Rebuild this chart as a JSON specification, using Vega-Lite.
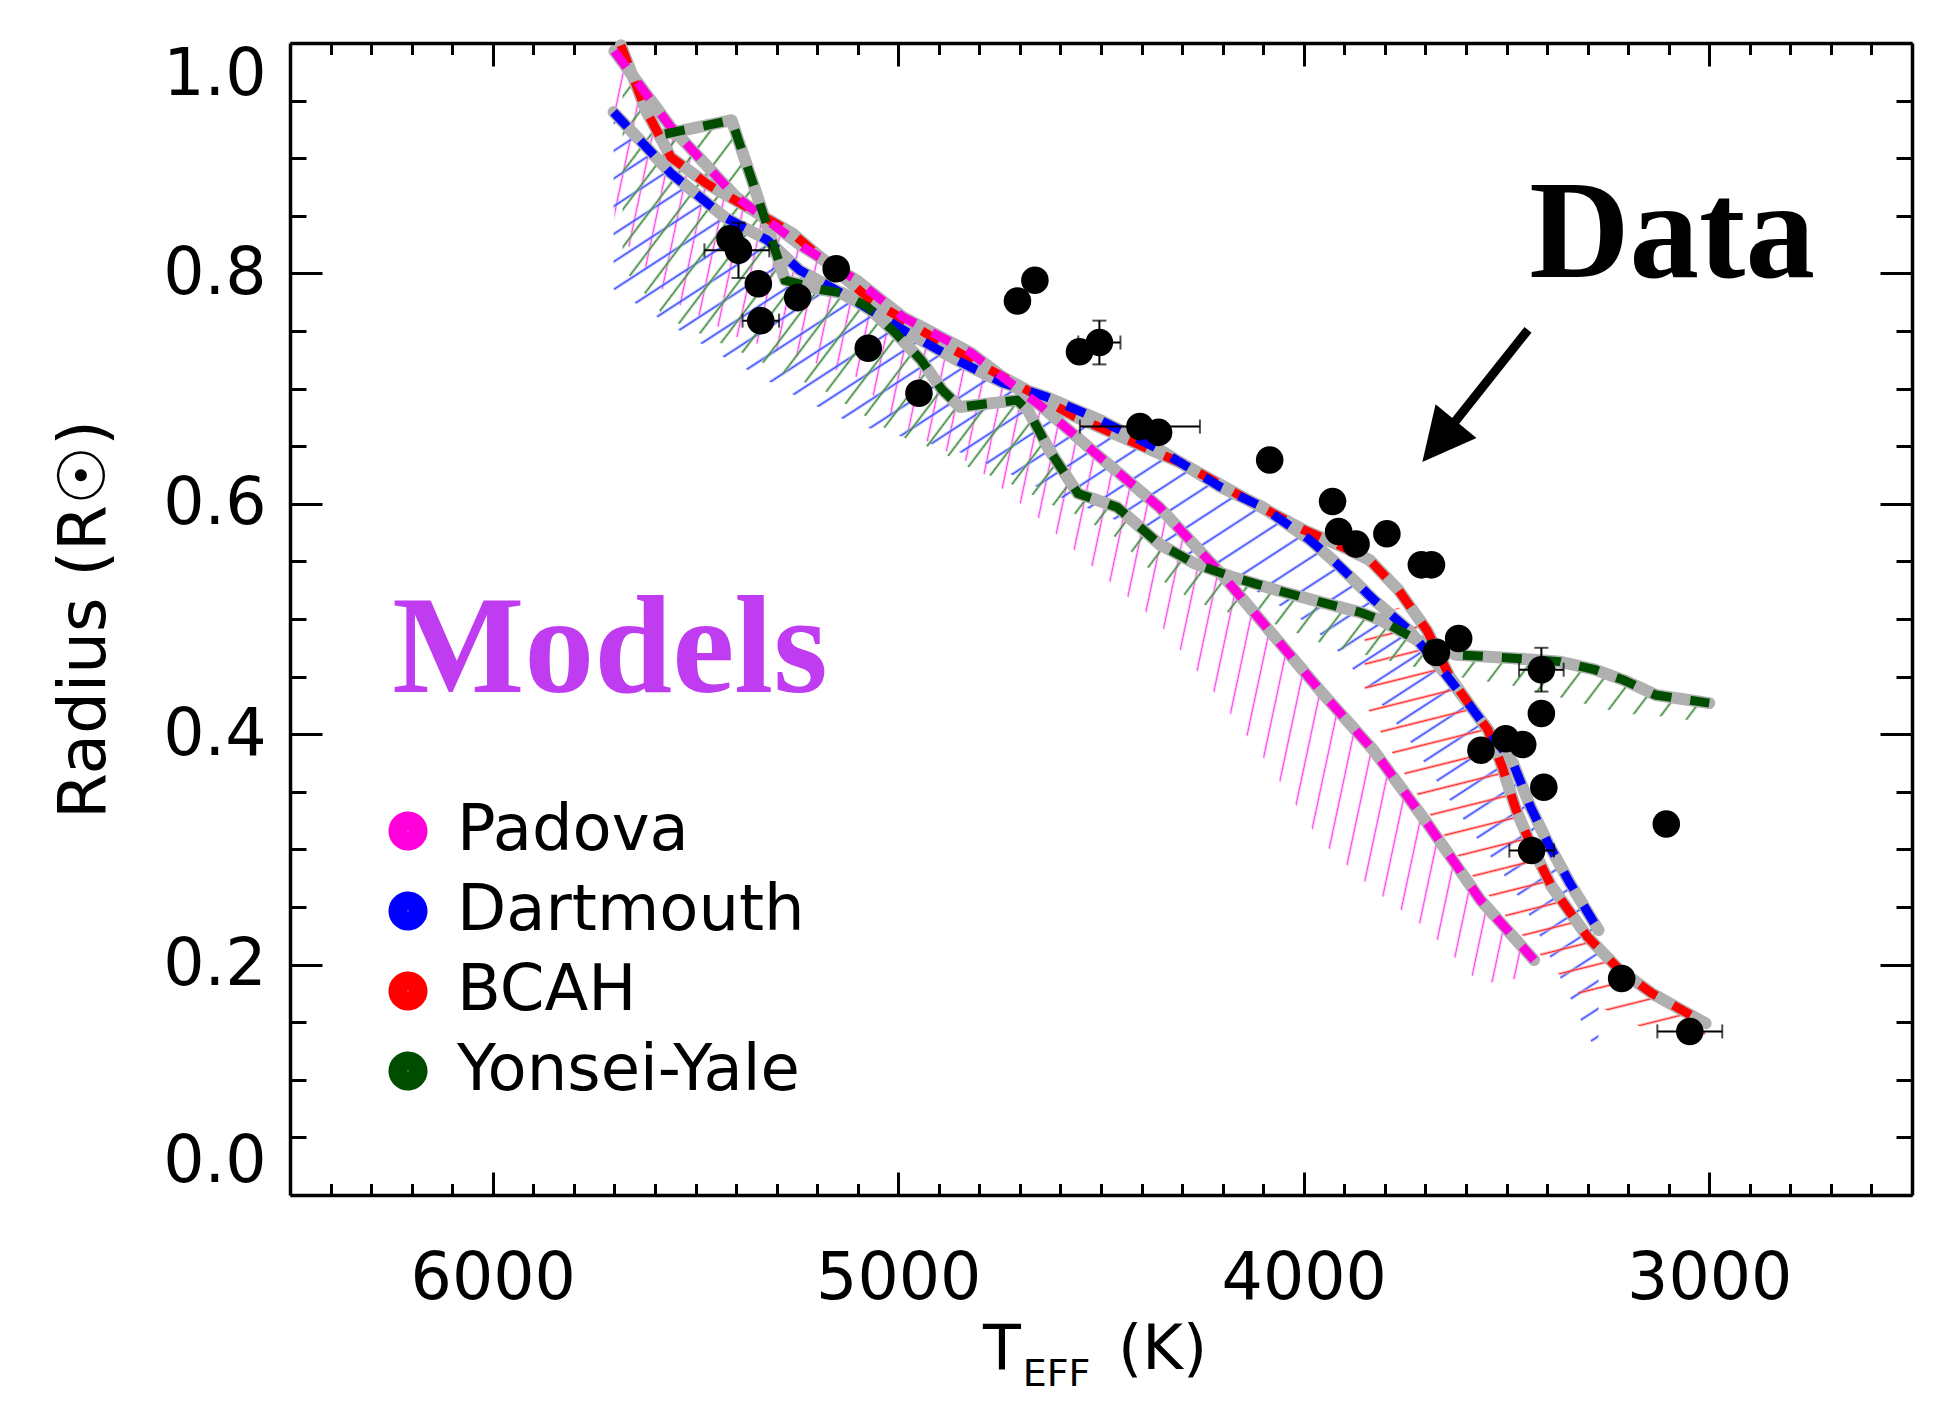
{
"$schema": "https://vega.github.io/schema/vega-lite/v6.json",
"width": 1622, "height": 1152,
"autosize": {"type": "none"},
"padding": {"left": 290, "top": 43, "right": 26, "bottom": 220},
"background": "white",
"config": {"view": {"stroke": null}, "axis": {"grid": false, "domainColor": "black", "tickColor": "black", "labelColor": "black", "titleColor": "black", "labelFont": "DejaVu Sans", "titleFont": "DejaVu Sans", "titleFontWeight": "normal"}},
"datasets": {
"curves": [
{"model":"BCAH","T":5684,"R":0.998},{"model":"BCAH","T":5623,"R":0.942},{"model":"BCAH","T":5561,"R":0.901},{"model":"BCAH","T":5473,"R":0.878},{"model":"BCAH","T":5262,"R":0.835},{"model":"BCAH","T":5068,"R":0.777},{"model":"BCAH","T":4865,"R":0.734},{"model":"BCAH","T":4566,"R":0.676},{"model":"BCAH","T":4300,"R":0.635},{"model":"BCAH","T":4136,"R":0.603},{"model":"BCAH","T":4004,"R":0.578},{"model":"BCAH","T":3900,"R":0.562},{"model":"BCAH","T":3837,"R":0.551},{"model":"BCAH","T":3766,"R":0.525},{"model":"BCAH","T":3696,"R":0.490},{"model":"BCAH","T":3640,"R":0.450},{"model":"BCAH","T":3582,"R":0.421},{"model":"BCAH","T":3546,"R":0.404},{"model":"BCAH","T":3511,"R":0.372},{"model":"BCAH","T":3476,"R":0.334},{"model":"BCAH","T":3441,"R":0.305},{"model":"BCAH","T":3389,"R":0.268},{"model":"BCAH","T":3300,"R":0.224},{"model":"BCAH","T":3220,"R":0.195},{"model":"BCAH","T":3141,"R":0.175},{"model":"BCAH","T":3009,"R":0.149},
{"model":"Dartmouth","T":5702,"R":0.940},{"model":"Dartmouth","T":5561,"R":0.887},{"model":"Dartmouth","T":5429,"R":0.849},{"model":"Dartmouth","T":5323,"R":0.829},{"model":"Dartmouth","T":5244,"R":0.803},{"model":"Dartmouth","T":5110,"R":0.777},{"model":"Dartmouth","T":4974,"R":0.748},{"model":"Dartmouth","T":4857,"R":0.725},{"model":"Dartmouth","T":4742,"R":0.705},{"model":"Dartmouth","T":4636,"R":0.693},{"model":"Dartmouth","T":4504,"R":0.673},{"model":"Dartmouth","T":4356,"R":0.647},{"model":"Dartmouth","T":4207,"R":0.615},{"model":"Dartmouth","T":4101,"R":0.597},{"model":"Dartmouth","T":3986,"R":0.569},{"model":"Dartmouth","T":3918,"R":0.548},{"model":"Dartmouth","T":3828,"R":0.517},{"model":"Dartmouth","T":3740,"R":0.490},{"model":"Dartmouth","T":3652,"R":0.453},{"model":"Dartmouth","T":3582,"R":0.421},{"model":"Dartmouth","T":3546,"R":0.404},{"model":"Dartmouth","T":3484,"R":0.375},{"model":"Dartmouth","T":3441,"R":0.337},{"model":"Dartmouth","T":3397,"R":0.305},{"model":"Dartmouth","T":3344,"R":0.271},{"model":"Dartmouth","T":3273,"R":0.230},
{"model":"Padova","T":5700,"R":0.993},{"model":"Padova","T":5561,"R":0.927},{"model":"Padova","T":5402,"R":0.867},{"model":"Padova","T":5235,"R":0.823},{"model":"Padova","T":5103,"R":0.794},{"model":"Padova","T":4988,"R":0.762},{"model":"Padova","T":4821,"R":0.731},{"model":"Padova","T":4645,"R":0.684},{"model":"Padova","T":4504,"R":0.641},{"model":"Padova","T":4356,"R":0.597},{"model":"Padova","T":4198,"R":0.537},{"model":"Padova","T":4092,"R":0.493},{"model":"Padova","T":3960,"R":0.438},{"model":"Padova","T":3828,"R":0.386},{"model":"Padova","T":3696,"R":0.323},{"model":"Padova","T":3564,"R":0.256},{"model":"Padova","T":3432,"R":0.204},
{"model":"Yonsei-Yale","T":5575,"R":0.921},{"model":"Yonsei-Yale","T":5411,"R":0.933},{"model":"Yonsei-Yale","T":5358,"R":0.878},{"model":"Yonsei-Yale","T":5323,"R":0.841},{"model":"Yonsei-Yale","T":5279,"R":0.794},{"model":"Yonsei-Yale","T":5191,"R":0.786},{"model":"Yonsei-Yale","T":5138,"R":0.783},{"model":"Yonsei-Yale","T":5076,"R":0.771},{"model":"Yonsei-Yale","T":5006,"R":0.748},{"model":"Yonsei-Yale","T":4944,"R":0.725},{"model":"Yonsei-Yale","T":4892,"R":0.699},{"model":"Yonsei-Yale","T":4848,"R":0.684},{"model":"Yonsei-Yale","T":4707,"R":0.690},{"model":"Yonsei-Yale","T":4680,"R":0.681},{"model":"Yonsei-Yale","T":4628,"R":0.647},{"model":"Yonsei-Yale","T":4557,"R":0.609},{"model":"Yonsei-Yale","T":4460,"R":0.597},{"model":"Yonsei-Yale","T":4356,"R":0.565},{"model":"Yonsei-Yale","T":4268,"R":0.548},{"model":"Yonsei-Yale","T":4180,"R":0.537},{"model":"Yonsei-Yale","T":4066,"R":0.525},{"model":"Yonsei-Yale","T":3951,"R":0.514},{"model":"Yonsei-Yale","T":3863,"R":0.506},{"model":"Yonsei-Yale","T":3810,"R":0.499},{"model":"Yonsei-Yale","T":3722,"R":0.482},{"model":"Yonsei-Yale","T":3625,"R":0.469},{"model":"Yonsei-Yale","T":3484,"R":0.466},{"model":"Yonsei-Yale","T":3369,"R":0.463},{"model":"Yonsei-Yale","T":3282,"R":0.456},{"model":"Yonsei-Yale","T":3211,"R":0.447},{"model":"Yonsei-Yale","T":3132,"R":0.434},{"model":"Yonsei-Yale","T":3000,"R":0.427}
],
"bands": [
{"model":"Padova","T":5700,"hi":0.993,"lo":0.839},{"model":"Padova","T":5561,"hi":0.927,"lo":0.777},{"model":"Padova","T":5402,"hi":0.867,"lo":0.745},{"model":"Padova","T":5235,"hi":0.823,"lo":0.726},{"model":"Padova","T":5103,"hi":0.794,"lo":0.71},{"model":"Padova","T":4988,"hi":0.762,"lo":0.665},{"model":"Padova","T":4821,"hi":0.731,"lo":0.635},{"model":"Padova","T":4645,"hi":0.684,"lo":0.585},{"model":"Padova","T":4504,"hi":0.641,"lo":0.54},{"model":"Padova","T":4356,"hi":0.597,"lo":0.496},{"model":"Padova","T":4198,"hi":0.537,"lo":0.426},{"model":"Padova","T":4092,"hi":0.493,"lo":0.376},{"model":"Padova","T":3960,"hi":0.438,"lo":0.308},{"model":"Padova","T":3828,"hi":0.386,"lo":0.265},{"model":"Padova","T":3696,"hi":0.323,"lo":0.231},{"model":"Padova","T":3564,"hi":0.256,"lo":0.183},{"model":"Padova","T":3432,"hi":0.204,"lo":0.19},
{"model":"Dartmouth","T":5702,"hi":0.940,"lo":0.786},{"model":"Dartmouth","T":5561,"hi":0.887,"lo":0.755},{"model":"Dartmouth","T":5429,"hi":0.849,"lo":0.727},{"model":"Dartmouth","T":5323,"hi":0.829,"lo":0.707},{"model":"Dartmouth","T":5244,"hi":0.803,"lo":0.692},{"model":"Dartmouth","T":5110,"hi":0.777,"lo":0.669},{"model":"Dartmouth","T":4974,"hi":0.748,"lo":0.657},{"model":"Dartmouth","T":4857,"hi":0.725,"lo":0.646},{"model":"Dartmouth","T":4742,"hi":0.705,"lo":0.629},{"model":"Dartmouth","T":4636,"hi":0.693,"lo":0.611},{"model":"Dartmouth","T":4504,"hi":0.673,"lo":0.592},{"model":"Dartmouth","T":4356,"hi":0.647,"lo":0.569},{"model":"Dartmouth","T":4207,"hi":0.615,"lo":0.541},{"model":"Dartmouth","T":4101,"hi":0.597,"lo":0.521},{"model":"Dartmouth","T":3986,"hi":0.569,"lo":0.495},{"model":"Dartmouth","T":3918,"hi":0.548,"lo":0.473},{"model":"Dartmouth","T":3828,"hi":0.517,"lo":0.435},{"model":"Dartmouth","T":3740,"hi":0.490,"lo":0.395},{"model":"Dartmouth","T":3652,"hi":0.453,"lo":0.349},{"model":"Dartmouth","T":3582,"hi":0.421,"lo":0.314},{"model":"Dartmouth","T":3546,"hi":0.404,"lo":0.297},{"model":"Dartmouth","T":3484,"hi":0.375,"lo":0.267},{"model":"Dartmouth","T":3441,"hi":0.337,"lo":0.241},{"model":"Dartmouth","T":3397,"hi":0.305,"lo":0.21},{"model":"Dartmouth","T":3344,"hi":0.271,"lo":0.172},{"model":"Dartmouth","T":3273,"hi":0.230,"lo":0.12},
{"model":"BCAH","T":3850,"hi":0.497,"lo":0.427},{"model":"BCAH","T":3766,"hi":0.51,"lo":0.374},{"model":"BCAH","T":3696,"hi":0.49,"lo":0.334},{"model":"BCAH","T":3640,"hi":0.45,"lo":0.305},{"model":"BCAH","T":3582,"hi":0.421,"lo":0.276},{"model":"BCAH","T":3546,"hi":0.404,"lo":0.261},{"model":"BCAH","T":3511,"hi":0.372,"lo":0.246},{"model":"BCAH","T":3476,"hi":0.334,"lo":0.231},{"model":"BCAH","T":3441,"hi":0.305,"lo":0.218},{"model":"BCAH","T":3389,"hi":0.268,"lo":0.198},{"model":"BCAH","T":3300,"hi":0.224,"lo":0.168},{"model":"BCAH","T":3220,"hi":0.195,"lo":0.155},{"model":"BCAH","T":3141,"hi":0.175,"lo":0.141},{"model":"BCAH","T":3009,"hi":0.149,"lo":0.133},
{"model":"Yonsei-Yale","T":5680,"hi":0.975,"lo":0.805},{"model":"Yonsei-Yale","T":5575,"hi":0.921,"lo":0.762},{"model":"Yonsei-Yale","T":5411,"hi":0.933,"lo":0.735},{"model":"Yonsei-Yale","T":5358,"hi":0.878,"lo":0.727},{"model":"Yonsei-Yale","T":5279,"hi":0.794,"lo":0.712},{"model":"Yonsei-Yale","T":5191,"hi":0.786,"lo":0.70},{"model":"Yonsei-Yale","T":5076,"hi":0.771,"lo":0.675},{"model":"Yonsei-Yale","T":5006,"hi":0.748,"lo":0.66},{"model":"Yonsei-Yale","T":4892,"hi":0.699,"lo":0.645},{"model":"Yonsei-Yale","T":4848,"hi":0.684,"lo":0.635},{"model":"Yonsei-Yale","T":4707,"hi":0.690,"lo":0.615},{"model":"Yonsei-Yale","T":4628,"hi":0.647,"lo":0.60},{"model":"Yonsei-Yale","T":4557,"hi":0.609,"lo":0.59},{"model":"Yonsei-Yale","T":4460,"hi":0.597,"lo":0.57},{"model":"Yonsei-Yale","T":4356,"hi":0.565,"lo":0.535},{"model":"Yonsei-Yale","T":4268,"hi":0.548,"lo":0.515},{"model":"Yonsei-Yale","T":4180,"hi":0.537,"lo":0.505},{"model":"Yonsei-Yale","T":4066,"hi":0.525,"lo":0.495},{"model":"Yonsei-Yale","T":3951,"hi":0.514,"lo":0.478},{"model":"Yonsei-Yale","T":3863,"hi":0.506,"lo":0.47},{"model":"Yonsei-Yale","T":3722,"hi":0.482,"lo":0.458},{"model":"Yonsei-Yale","T":3625,"hi":0.469,"lo":0.45},{"model":"Yonsei-Yale","T":3484,"hi":0.466,"lo":0.442},{"model":"Yonsei-Yale","T":3369,"hi":0.463,"lo":0.432},{"model":"Yonsei-Yale","T":3282,"hi":0.456,"lo":0.424},{"model":"Yonsei-Yale","T":3211,"hi":0.447,"lo":0.418},{"model":"Yonsei-Yale","T":3132,"hi":0.434,"lo":0.416},{"model":"Yonsei-Yale","T":3000,"hi":0.427,"lo":0.41}
],
"stars": [
{"T":5415,"R":0.830},{"T":5394,"R":0.820},{"T":5345,"R":0.791},{"T":5339,"R":0.759},{"T":5248,"R":0.779},{"T":5153,"R":0.804},{"T":5074,"R":0.735},{"T":4949,"R":0.696},{"T":4706,"R":0.776},{"T":4663,"R":0.794},{"T":4553,"R":0.732},{"T":4504,"R":0.740},{"T":4404,"R":0.667},{"T":4358,"R":0.662},{"T":4084,"R":0.638},{"T":3929,"R":0.602},{"T":3914,"R":0.576},{"T":3871,"R":0.565},{"T":3795,"R":0.574},{"T":3710,"R":0.547},{"T":3685,"R":0.547},{"T":3673,"R":0.471},{"T":3618,"R":0.483},{"T":3414,"R":0.456},{"T":3414,"R":0.418},{"T":3563,"R":0.386},{"T":3502,"R":0.396},{"T":3460,"R":0.391},{"T":3408,"R":0.354},{"T":3438,"R":0.299},{"T":3106,"R":0.322},{"T":3216,"R":0.188},{"T":3048,"R":0.142}
],
"errx": [
{"lo":5318,"hi":5478,"R":0.820},{"lo":5294,"hi":5384,"R":0.759},{"lo":4452,"hi":4556,"R":0.740},{"lo":4256,"hi":4552,"R":0.667},{"lo":3359,"hi":3469,"R":0.456},{"lo":3383,"hi":3493,"R":0.299},{"lo":2968,"hi":3128,"R":0.142}
],
"erry": [
{"T":5394,"lo":0.796,"hi":0.844},{"T":4504,"lo":0.721,"hi":0.759},{"T":3414,"lo":0.437,"hi":0.475}
]
},
"layer": [
{"data": {"name": "bands"}, "transform": [{"filter": "datum.model === 'Padova'"}],
 "mark": {"type": "area", "fill": {"gradient": "linear", "x1": 0, "y1": 0, "x2": 1.1616, "y2": 0.2505, "stops": [
{"offset":0.010,"color":"#fff0"},{"offset":0.012,"color":"#ff3cf0"},{"offset":0.014,"color":"#fff0"},
{"offset":0.029,"color":"#fff0"},{"offset":0.031,"color":"#ff3cf0"},{"offset":0.033,"color":"#fff0"},
{"offset":0.048,"color":"#fff0"},{"offset":0.050,"color":"#ff3cf0"},{"offset":0.052,"color":"#fff0"},
{"offset":0.067,"color":"#fff0"},{"offset":0.069,"color":"#ff3cf0"},{"offset":0.071,"color":"#fff0"},
{"offset":0.086,"color":"#fff0"},{"offset":0.088,"color":"#ff3cf0"},{"offset":0.090,"color":"#fff0"},
{"offset":0.105,"color":"#fff0"},{"offset":0.107,"color":"#ff3cf0"},{"offset":0.109,"color":"#fff0"},
{"offset":0.124,"color":"#fff0"},{"offset":0.126,"color":"#ff3cf0"},{"offset":0.128,"color":"#fff0"},
{"offset":0.143,"color":"#fff0"},{"offset":0.145,"color":"#ff3cf0"},{"offset":0.147,"color":"#fff0"},
{"offset":0.162,"color":"#fff0"},{"offset":0.164,"color":"#ff3cf0"},{"offset":0.166,"color":"#fff0"},
{"offset":0.181,"color":"#fff0"},{"offset":0.183,"color":"#ff3cf0"},{"offset":0.185,"color":"#fff0"},
{"offset":0.200,"color":"#fff0"},{"offset":0.202,"color":"#ff3cf0"},{"offset":0.204,"color":"#fff0"},
{"offset":0.219,"color":"#fff0"},{"offset":0.221,"color":"#ff3cf0"},{"offset":0.223,"color":"#fff0"},
{"offset":0.238,"color":"#fff0"},{"offset":0.240,"color":"#ff3cf0"},{"offset":0.242,"color":"#fff0"},
{"offset":0.257,"color":"#fff0"},{"offset":0.259,"color":"#ff3cf0"},{"offset":0.261,"color":"#fff0"},
{"offset":0.276,"color":"#fff0"},{"offset":0.278,"color":"#ff3cf0"},{"offset":0.280,"color":"#fff0"},
{"offset":0.295,"color":"#fff0"},{"offset":0.297,"color":"#ff3cf0"},{"offset":0.299,"color":"#fff0"},
{"offset":0.314,"color":"#fff0"},{"offset":0.316,"color":"#ff3cf0"},{"offset":0.318,"color":"#fff0"},
{"offset":0.333,"color":"#fff0"},{"offset":0.335,"color":"#ff3cf0"},{"offset":0.337,"color":"#fff0"},
{"offset":0.352,"color":"#fff0"},{"offset":0.354,"color":"#ff3cf0"},{"offset":0.356,"color":"#fff0"},
{"offset":0.371,"color":"#fff0"},{"offset":0.373,"color":"#ff3cf0"},{"offset":0.375,"color":"#fff0"},
{"offset":0.390,"color":"#fff0"},{"offset":0.392,"color":"#ff3cf0"},{"offset":0.394,"color":"#fff0"},
{"offset":0.409,"color":"#fff0"},{"offset":0.411,"color":"#ff3cf0"},{"offset":0.413,"color":"#fff0"},
{"offset":0.428,"color":"#fff0"},{"offset":0.430,"color":"#ff3cf0"},{"offset":0.432,"color":"#fff0"},
{"offset":0.447,"color":"#fff0"},{"offset":0.449,"color":"#ff3cf0"},{"offset":0.451,"color":"#fff0"},
{"offset":0.466,"color":"#fff0"},{"offset":0.468,"color":"#ff3cf0"},{"offset":0.470,"color":"#fff0"},
{"offset":0.485,"color":"#fff0"},{"offset":0.487,"color":"#ff3cf0"},{"offset":0.489,"color":"#fff0"},
{"offset":0.504,"color":"#fff0"},{"offset":0.506,"color":"#ff3cf0"},{"offset":0.508,"color":"#fff0"},
{"offset":0.523,"color":"#fff0"},{"offset":0.525,"color":"#ff3cf0"},{"offset":0.527,"color":"#fff0"},
{"offset":0.542,"color":"#fff0"},{"offset":0.544,"color":"#ff3cf0"},{"offset":0.546,"color":"#fff0"},
{"offset":0.561,"color":"#fff0"},{"offset":0.563,"color":"#ff3cf0"},{"offset":0.565,"color":"#fff0"},
{"offset":0.580,"color":"#fff0"},{"offset":0.582,"color":"#ff3cf0"},{"offset":0.584,"color":"#fff0"},
{"offset":0.599,"color":"#fff0"},{"offset":0.601,"color":"#ff3cf0"},{"offset":0.603,"color":"#fff0"},
{"offset":0.618,"color":"#fff0"},{"offset":0.620,"color":"#ff3cf0"},{"offset":0.622,"color":"#fff0"},
{"offset":0.637,"color":"#fff0"},{"offset":0.639,"color":"#ff3cf0"},{"offset":0.641,"color":"#fff0"},
{"offset":0.656,"color":"#fff0"},{"offset":0.658,"color":"#ff3cf0"},{"offset":0.660,"color":"#fff0"},
{"offset":0.675,"color":"#fff0"},{"offset":0.677,"color":"#ff3cf0"},{"offset":0.679,"color":"#fff0"},
{"offset":0.694,"color":"#fff0"},{"offset":0.696,"color":"#ff3cf0"},{"offset":0.698,"color":"#fff0"},
{"offset":0.713,"color":"#fff0"},{"offset":0.715,"color":"#ff3cf0"},{"offset":0.717,"color":"#fff0"},
{"offset":0.732,"color":"#fff0"},{"offset":0.734,"color":"#ff3cf0"},{"offset":0.736,"color":"#fff0"},
{"offset":0.751,"color":"#fff0"},{"offset":0.753,"color":"#ff3cf0"},{"offset":0.755,"color":"#fff0"},
{"offset":0.770,"color":"#fff0"},{"offset":0.772,"color":"#ff3cf0"},{"offset":0.774,"color":"#fff0"},
{"offset":0.789,"color":"#fff0"},{"offset":0.791,"color":"#ff3cf0"},{"offset":0.793,"color":"#fff0"},
{"offset":0.808,"color":"#fff0"},{"offset":0.810,"color":"#ff3cf0"},{"offset":0.812,"color":"#fff0"},
{"offset":0.827,"color":"#fff0"},{"offset":0.829,"color":"#ff3cf0"},{"offset":0.831,"color":"#fff0"},
{"offset":0.846,"color":"#fff0"},{"offset":0.848,"color":"#ff3cf0"},{"offset":0.850,"color":"#fff0"},
{"offset":0.865,"color":"#fff0"},{"offset":0.867,"color":"#ff3cf0"},{"offset":0.869,"color":"#fff0"},
{"offset":0.884,"color":"#fff0"},{"offset":0.886,"color":"#ff3cf0"},{"offset":0.888,"color":"#fff0"},
{"offset":0.903,"color":"#fff0"},{"offset":0.905,"color":"#ff3cf0"},{"offset":0.907,"color":"#fff0"},
{"offset":0.922,"color":"#fff0"},{"offset":0.924,"color":"#ff3cf0"},{"offset":0.926,"color":"#fff0"},
{"offset":0.941,"color":"#fff0"},{"offset":0.943,"color":"#ff3cf0"},{"offset":0.945,"color":"#fff0"},
{"offset":0.960,"color":"#fff0"},{"offset":0.962,"color":"#ff3cf0"},{"offset":0.964,"color":"#fff0"},
{"offset":0.979,"color":"#fff0"},{"offset":0.981,"color":"#ff3cf0"},{"offset":0.983,"color":"#fff0"}
 ]}},
 "encoding": {"x": {"field": "T", "type": "quantitative", "scale": {"domain": [2500, 6500], "reverse": true, "nice": false, "zero": false}, "axis": null},
  "y": {"field": "hi", "type": "quantitative", "scale": {"domain": [0, 1], "nice": false, "zero": false}, "axis": null},
  "y2": {"field": "lo"}}},
{"data": {"name": "bands"}, "transform": [{"filter": "datum.model === 'Dartmouth'"}],
 "mark": {"type": "area", "fill": {"gradient": "linear", "x1": 0, "y1": 0, "x2": 0.7786, "y2": 1.1499, "stops": [
{"offset":0.005,"color":"#fff0"},{"offset":0.007,"color":"#2a3cff"},{"offset":0.009,"color":"#fff0"},
{"offset":0.0225,"color":"#fff0"},{"offset":0.0245,"color":"#2a3cff"},{"offset":0.0265,"color":"#fff0"},
{"offset":0.04,"color":"#fff0"},{"offset":0.042,"color":"#2a3cff"},{"offset":0.044,"color":"#fff0"},
{"offset":0.0575,"color":"#fff0"},{"offset":0.0595,"color":"#2a3cff"},{"offset":0.0615,"color":"#fff0"},
{"offset":0.075,"color":"#fff0"},{"offset":0.077,"color":"#2a3cff"},{"offset":0.079,"color":"#fff0"},
{"offset":0.0925,"color":"#fff0"},{"offset":0.0945,"color":"#2a3cff"},{"offset":0.0965,"color":"#fff0"},
{"offset":0.11,"color":"#fff0"},{"offset":0.112,"color":"#2a3cff"},{"offset":0.114,"color":"#fff0"},
{"offset":0.1275,"color":"#fff0"},{"offset":0.1295,"color":"#2a3cff"},{"offset":0.1315,"color":"#fff0"},
{"offset":0.145,"color":"#fff0"},{"offset":0.147,"color":"#2a3cff"},{"offset":0.149,"color":"#fff0"},
{"offset":0.1625,"color":"#fff0"},{"offset":0.1645,"color":"#2a3cff"},{"offset":0.1665,"color":"#fff0"},
{"offset":0.18,"color":"#fff0"},{"offset":0.182,"color":"#2a3cff"},{"offset":0.184,"color":"#fff0"},
{"offset":0.1975,"color":"#fff0"},{"offset":0.1995,"color":"#2a3cff"},{"offset":0.2015,"color":"#fff0"},
{"offset":0.215,"color":"#fff0"},{"offset":0.217,"color":"#2a3cff"},{"offset":0.219,"color":"#fff0"},
{"offset":0.2325,"color":"#fff0"},{"offset":0.2345,"color":"#2a3cff"},{"offset":0.2365,"color":"#fff0"},
{"offset":0.25,"color":"#fff0"},{"offset":0.252,"color":"#2a3cff"},{"offset":0.254,"color":"#fff0"},
{"offset":0.2675,"color":"#fff0"},{"offset":0.2695,"color":"#2a3cff"},{"offset":0.2715,"color":"#fff0"},
{"offset":0.285,"color":"#fff0"},{"offset":0.287,"color":"#2a3cff"},{"offset":0.289,"color":"#fff0"},
{"offset":0.3025,"color":"#fff0"},{"offset":0.3045,"color":"#2a3cff"},{"offset":0.3065,"color":"#fff0"},
{"offset":0.32,"color":"#fff0"},{"offset":0.322,"color":"#2a3cff"},{"offset":0.324,"color":"#fff0"},
{"offset":0.3375,"color":"#fff0"},{"offset":0.3395,"color":"#2a3cff"},{"offset":0.3415,"color":"#fff0"},
{"offset":0.355,"color":"#fff0"},{"offset":0.357,"color":"#2a3cff"},{"offset":0.359,"color":"#fff0"},
{"offset":0.3725,"color":"#fff0"},{"offset":0.3745,"color":"#2a3cff"},{"offset":0.3765,"color":"#fff0"},
{"offset":0.39,"color":"#fff0"},{"offset":0.392,"color":"#2a3cff"},{"offset":0.394,"color":"#fff0"},
{"offset":0.4075,"color":"#fff0"},{"offset":0.4095,"color":"#2a3cff"},{"offset":0.4115,"color":"#fff0"},
{"offset":0.425,"color":"#fff0"},{"offset":0.427,"color":"#2a3cff"},{"offset":0.429,"color":"#fff0"},
{"offset":0.4425,"color":"#fff0"},{"offset":0.4445,"color":"#2a3cff"},{"offset":0.4465,"color":"#fff0"},
{"offset":0.46,"color":"#fff0"},{"offset":0.462,"color":"#2a3cff"},{"offset":0.464,"color":"#fff0"},
{"offset":0.4775,"color":"#fff0"},{"offset":0.4795,"color":"#2a3cff"},{"offset":0.4815,"color":"#fff0"},
{"offset":0.495,"color":"#fff0"},{"offset":0.497,"color":"#2a3cff"},{"offset":0.499,"color":"#fff0"},
{"offset":0.5125,"color":"#fff0"},{"offset":0.5145,"color":"#2a3cff"},{"offset":0.5165,"color":"#fff0"},
{"offset":0.53,"color":"#fff0"},{"offset":0.532,"color":"#2a3cff"},{"offset":0.534,"color":"#fff0"},
{"offset":0.5475,"color":"#fff0"},{"offset":0.5495,"color":"#2a3cff"},{"offset":0.5515,"color":"#fff0"},
{"offset":0.565,"color":"#fff0"},{"offset":0.567,"color":"#2a3cff"},{"offset":0.569,"color":"#fff0"},
{"offset":0.5825,"color":"#fff0"},{"offset":0.5845,"color":"#2a3cff"},{"offset":0.5865,"color":"#fff0"},
{"offset":0.6,"color":"#fff0"},{"offset":0.602,"color":"#2a3cff"},{"offset":0.604,"color":"#fff0"},
{"offset":0.6175,"color":"#fff0"},{"offset":0.6195,"color":"#2a3cff"},{"offset":0.6215,"color":"#fff0"},
{"offset":0.635,"color":"#fff0"},{"offset":0.637,"color":"#2a3cff"},{"offset":0.639,"color":"#fff0"},
{"offset":0.6525,"color":"#fff0"},{"offset":0.6545,"color":"#2a3cff"},{"offset":0.6565,"color":"#fff0"},
{"offset":0.67,"color":"#fff0"},{"offset":0.672,"color":"#2a3cff"},{"offset":0.674,"color":"#fff0"},
{"offset":0.6875,"color":"#fff0"},{"offset":0.6895,"color":"#2a3cff"},{"offset":0.6915,"color":"#fff0"},
{"offset":0.705,"color":"#fff0"},{"offset":0.707,"color":"#2a3cff"},{"offset":0.709,"color":"#fff0"},
{"offset":0.7225,"color":"#fff0"},{"offset":0.7245,"color":"#2a3cff"},{"offset":0.7265,"color":"#fff0"},
{"offset":0.74,"color":"#fff0"},{"offset":0.742,"color":"#2a3cff"},{"offset":0.744,"color":"#fff0"},
{"offset":0.7575,"color":"#fff0"},{"offset":0.7595,"color":"#2a3cff"},{"offset":0.7615,"color":"#fff0"},
{"offset":0.775,"color":"#fff0"},{"offset":0.777,"color":"#2a3cff"},{"offset":0.779,"color":"#fff0"},
{"offset":0.7925,"color":"#fff0"},{"offset":0.7945,"color":"#2a3cff"},{"offset":0.7965,"color":"#fff0"},
{"offset":0.81,"color":"#fff0"},{"offset":0.812,"color":"#2a3cff"},{"offset":0.814,"color":"#fff0"},
{"offset":0.8275,"color":"#fff0"},{"offset":0.8295,"color":"#2a3cff"},{"offset":0.8315,"color":"#fff0"},
{"offset":0.845,"color":"#fff0"},{"offset":0.847,"color":"#2a3cff"},{"offset":0.849,"color":"#fff0"},
{"offset":0.8625,"color":"#fff0"},{"offset":0.8645,"color":"#2a3cff"},{"offset":0.8665,"color":"#fff0"},
{"offset":0.88,"color":"#fff0"},{"offset":0.882,"color":"#2a3cff"},{"offset":0.884,"color":"#fff0"},
{"offset":0.8975,"color":"#fff0"},{"offset":0.8995,"color":"#2a3cff"},{"offset":0.9015,"color":"#fff0"},
{"offset":0.915,"color":"#fff0"},{"offset":0.917,"color":"#2a3cff"},{"offset":0.919,"color":"#fff0"},
{"offset":0.9325,"color":"#fff0"},{"offset":0.9345,"color":"#2a3cff"},{"offset":0.9365,"color":"#fff0"},
{"offset":0.95,"color":"#fff0"},{"offset":0.952,"color":"#2a3cff"},{"offset":0.954,"color":"#fff0"},
{"offset":0.9675,"color":"#fff0"},{"offset":0.9695,"color":"#2a3cff"},{"offset":0.9715,"color":"#fff0"},
{"offset":0.985,"color":"#fff0"},{"offset":0.987,"color":"#2a3cff"},{"offset":0.989,"color":"#fff0"}
 ]}},
 "encoding": {"x": {"field": "T", "type": "quantitative", "scale": {"domain": [2500, 6500], "reverse": true, "nice": false, "zero": false}, "axis": null},
  "y": {"field": "hi", "type": "quantitative", "scale": {"domain": [0, 1], "nice": false, "zero": false}, "axis": null},
  "y2": {"field": "lo"}}},
{"data": {"name": "bands"}, "transform": [{"filter": "datum.model === 'BCAH'"}],
 "mark": {"type": "area", "fill": {"gradient": "linear", "x1": 0, "y1": 0, "x2": 0.2254, "y2": 1.1516, "stops": [
{"offset":0.012,"color":"#fff0"},{"offset":0.017,"color":"#ff2020"},{"offset":0.022,"color":"#fff0"},
{"offset":0.058,"color":"#fff0"},{"offset":0.063,"color":"#ff2020"},{"offset":0.068,"color":"#fff0"},
{"offset":0.104,"color":"#fff0"},{"offset":0.109,"color":"#ff2020"},{"offset":0.114,"color":"#fff0"},
{"offset":0.150,"color":"#fff0"},{"offset":0.155,"color":"#ff2020"},{"offset":0.160,"color":"#fff0"},
{"offset":0.196,"color":"#fff0"},{"offset":0.201,"color":"#ff2020"},{"offset":0.206,"color":"#fff0"},
{"offset":0.242,"color":"#fff0"},{"offset":0.247,"color":"#ff2020"},{"offset":0.252,"color":"#fff0"},
{"offset":0.288,"color":"#fff0"},{"offset":0.293,"color":"#ff2020"},{"offset":0.298,"color":"#fff0"},
{"offset":0.334,"color":"#fff0"},{"offset":0.339,"color":"#ff2020"},{"offset":0.344,"color":"#fff0"},
{"offset":0.380,"color":"#fff0"},{"offset":0.385,"color":"#ff2020"},{"offset":0.390,"color":"#fff0"},
{"offset":0.426,"color":"#fff0"},{"offset":0.431,"color":"#ff2020"},{"offset":0.436,"color":"#fff0"},
{"offset":0.472,"color":"#fff0"},{"offset":0.477,"color":"#ff2020"},{"offset":0.482,"color":"#fff0"},
{"offset":0.518,"color":"#fff0"},{"offset":0.523,"color":"#ff2020"},{"offset":0.528,"color":"#fff0"},
{"offset":0.564,"color":"#fff0"},{"offset":0.569,"color":"#ff2020"},{"offset":0.574,"color":"#fff0"},
{"offset":0.610,"color":"#fff0"},{"offset":0.615,"color":"#ff2020"},{"offset":0.620,"color":"#fff0"},
{"offset":0.656,"color":"#fff0"},{"offset":0.661,"color":"#ff2020"},{"offset":0.666,"color":"#fff0"},
{"offset":0.702,"color":"#fff0"},{"offset":0.707,"color":"#ff2020"},{"offset":0.712,"color":"#fff0"},
{"offset":0.748,"color":"#fff0"},{"offset":0.753,"color":"#ff2020"},{"offset":0.758,"color":"#fff0"},
{"offset":0.794,"color":"#fff0"},{"offset":0.799,"color":"#ff2020"},{"offset":0.804,"color":"#fff0"},
{"offset":0.840,"color":"#fff0"},{"offset":0.845,"color":"#ff2020"},{"offset":0.850,"color":"#fff0"},
{"offset":0.886,"color":"#fff0"},{"offset":0.891,"color":"#ff2020"},{"offset":0.896,"color":"#fff0"},
{"offset":0.932,"color":"#fff0"},{"offset":0.937,"color":"#ff2020"},{"offset":0.942,"color":"#fff0"},
{"offset":0.978,"color":"#fff0"},{"offset":0.983,"color":"#ff2020"},{"offset":0.988,"color":"#fff0"}
 ]}},
 "encoding": {"x": {"field": "T", "type": "quantitative", "scale": {"domain": [2500, 6500], "reverse": true, "nice": false, "zero": false}, "axis": null},
  "y": {"field": "hi", "type": "quantitative", "scale": {"domain": [0, 1], "nice": false, "zero": false}, "axis": null},
  "y2": {"field": "lo"}}},
{"data": {"name": "bands"}, "transform": [{"filter": "datum.model === 'Yonsei-Yale'"}],
 "mark": {"type": "area", "fill": {"gradient": "linear", "x1": 0, "y1": 0, "x2": 1.2057, "y2": 0.5442, "stops": [
{"offset":0.010,"color":"#fff0"},{"offset":0.012,"color":"#2f7f2f"},{"offset":0.014,"color":"#fff0"},
{"offset":0.028,"color":"#fff0"},{"offset":0.030,"color":"#2f7f2f"},{"offset":0.032,"color":"#fff0"},
{"offset":0.046,"color":"#fff0"},{"offset":0.048,"color":"#2f7f2f"},{"offset":0.050,"color":"#fff0"},
{"offset":0.064,"color":"#fff0"},{"offset":0.066,"color":"#2f7f2f"},{"offset":0.068,"color":"#fff0"},
{"offset":0.082,"color":"#fff0"},{"offset":0.084,"color":"#2f7f2f"},{"offset":0.086,"color":"#fff0"},
{"offset":0.100,"color":"#fff0"},{"offset":0.102,"color":"#2f7f2f"},{"offset":0.104,"color":"#fff0"},
{"offset":0.118,"color":"#fff0"},{"offset":0.120,"color":"#2f7f2f"},{"offset":0.122,"color":"#fff0"},
{"offset":0.136,"color":"#fff0"},{"offset":0.138,"color":"#2f7f2f"},{"offset":0.140,"color":"#fff0"},
{"offset":0.154,"color":"#fff0"},{"offset":0.156,"color":"#2f7f2f"},{"offset":0.158,"color":"#fff0"},
{"offset":0.172,"color":"#fff0"},{"offset":0.174,"color":"#2f7f2f"},{"offset":0.176,"color":"#fff0"},
{"offset":0.190,"color":"#fff0"},{"offset":0.192,"color":"#2f7f2f"},{"offset":0.194,"color":"#fff0"},
{"offset":0.208,"color":"#fff0"},{"offset":0.210,"color":"#2f7f2f"},{"offset":0.212,"color":"#fff0"},
{"offset":0.226,"color":"#fff0"},{"offset":0.228,"color":"#2f7f2f"},{"offset":0.230,"color":"#fff0"},
{"offset":0.244,"color":"#fff0"},{"offset":0.246,"color":"#2f7f2f"},{"offset":0.248,"color":"#fff0"},
{"offset":0.262,"color":"#fff0"},{"offset":0.264,"color":"#2f7f2f"},{"offset":0.266,"color":"#fff0"},
{"offset":0.280,"color":"#fff0"},{"offset":0.282,"color":"#2f7f2f"},{"offset":0.284,"color":"#fff0"},
{"offset":0.298,"color":"#fff0"},{"offset":0.300,"color":"#2f7f2f"},{"offset":0.302,"color":"#fff0"},
{"offset":0.316,"color":"#fff0"},{"offset":0.318,"color":"#2f7f2f"},{"offset":0.320,"color":"#fff0"},
{"offset":0.334,"color":"#fff0"},{"offset":0.336,"color":"#2f7f2f"},{"offset":0.338,"color":"#fff0"},
{"offset":0.352,"color":"#fff0"},{"offset":0.354,"color":"#2f7f2f"},{"offset":0.356,"color":"#fff0"},
{"offset":0.370,"color":"#fff0"},{"offset":0.372,"color":"#2f7f2f"},{"offset":0.374,"color":"#fff0"},
{"offset":0.388,"color":"#fff0"},{"offset":0.390,"color":"#2f7f2f"},{"offset":0.392,"color":"#fff0"},
{"offset":0.406,"color":"#fff0"},{"offset":0.408,"color":"#2f7f2f"},{"offset":0.410,"color":"#fff0"},
{"offset":0.424,"color":"#fff0"},{"offset":0.426,"color":"#2f7f2f"},{"offset":0.428,"color":"#fff0"},
{"offset":0.442,"color":"#fff0"},{"offset":0.444,"color":"#2f7f2f"},{"offset":0.446,"color":"#fff0"},
{"offset":0.460,"color":"#fff0"},{"offset":0.462,"color":"#2f7f2f"},{"offset":0.464,"color":"#fff0"},
{"offset":0.478,"color":"#fff0"},{"offset":0.480,"color":"#2f7f2f"},{"offset":0.482,"color":"#fff0"},
{"offset":0.496,"color":"#fff0"},{"offset":0.498,"color":"#2f7f2f"},{"offset":0.500,"color":"#fff0"},
{"offset":0.514,"color":"#fff0"},{"offset":0.516,"color":"#2f7f2f"},{"offset":0.518,"color":"#fff0"},
{"offset":0.532,"color":"#fff0"},{"offset":0.534,"color":"#2f7f2f"},{"offset":0.536,"color":"#fff0"},
{"offset":0.550,"color":"#fff0"},{"offset":0.552,"color":"#2f7f2f"},{"offset":0.554,"color":"#fff0"},
{"offset":0.568,"color":"#fff0"},{"offset":0.570,"color":"#2f7f2f"},{"offset":0.572,"color":"#fff0"},
{"offset":0.586,"color":"#fff0"},{"offset":0.588,"color":"#2f7f2f"},{"offset":0.590,"color":"#fff0"},
{"offset":0.604,"color":"#fff0"},{"offset":0.606,"color":"#2f7f2f"},{"offset":0.608,"color":"#fff0"},
{"offset":0.622,"color":"#fff0"},{"offset":0.624,"color":"#2f7f2f"},{"offset":0.626,"color":"#fff0"},
{"offset":0.640,"color":"#fff0"},{"offset":0.642,"color":"#2f7f2f"},{"offset":0.644,"color":"#fff0"},
{"offset":0.658,"color":"#fff0"},{"offset":0.660,"color":"#2f7f2f"},{"offset":0.662,"color":"#fff0"},
{"offset":0.676,"color":"#fff0"},{"offset":0.678,"color":"#2f7f2f"},{"offset":0.680,"color":"#fff0"},
{"offset":0.694,"color":"#fff0"},{"offset":0.696,"color":"#2f7f2f"},{"offset":0.698,"color":"#fff0"},
{"offset":0.712,"color":"#fff0"},{"offset":0.714,"color":"#2f7f2f"},{"offset":0.716,"color":"#fff0"},
{"offset":0.730,"color":"#fff0"},{"offset":0.732,"color":"#2f7f2f"},{"offset":0.734,"color":"#fff0"},
{"offset":0.748,"color":"#fff0"},{"offset":0.750,"color":"#2f7f2f"},{"offset":0.752,"color":"#fff0"},
{"offset":0.766,"color":"#fff0"},{"offset":0.768,"color":"#2f7f2f"},{"offset":0.770,"color":"#fff0"},
{"offset":0.784,"color":"#fff0"},{"offset":0.786,"color":"#2f7f2f"},{"offset":0.788,"color":"#fff0"},
{"offset":0.802,"color":"#fff0"},{"offset":0.804,"color":"#2f7f2f"},{"offset":0.806,"color":"#fff0"},
{"offset":0.820,"color":"#fff0"},{"offset":0.822,"color":"#2f7f2f"},{"offset":0.824,"color":"#fff0"},
{"offset":0.838,"color":"#fff0"},{"offset":0.840,"color":"#2f7f2f"},{"offset":0.842,"color":"#fff0"},
{"offset":0.856,"color":"#fff0"},{"offset":0.858,"color":"#2f7f2f"},{"offset":0.860,"color":"#fff0"},
{"offset":0.874,"color":"#fff0"},{"offset":0.876,"color":"#2f7f2f"},{"offset":0.878,"color":"#fff0"},
{"offset":0.892,"color":"#fff0"},{"offset":0.894,"color":"#2f7f2f"},{"offset":0.896,"color":"#fff0"},
{"offset":0.910,"color":"#fff0"},{"offset":0.912,"color":"#2f7f2f"},{"offset":0.914,"color":"#fff0"},
{"offset":0.928,"color":"#fff0"},{"offset":0.930,"color":"#2f7f2f"},{"offset":0.932,"color":"#fff0"},
{"offset":0.946,"color":"#fff0"},{"offset":0.948,"color":"#2f7f2f"},{"offset":0.950,"color":"#fff0"},
{"offset":0.964,"color":"#fff0"},{"offset":0.966,"color":"#2f7f2f"},{"offset":0.968,"color":"#fff0"},
{"offset":0.982,"color":"#fff0"},{"offset":0.984,"color":"#2f7f2f"},{"offset":0.986,"color":"#fff0"}
 ]}},
 "encoding": {"x": {"field": "T", "type": "quantitative", "scale": {"domain": [2500, 6500], "reverse": true, "nice": false, "zero": false}, "axis": null},
  "y": {"field": "hi", "type": "quantitative", "scale": {"domain": [0, 1], "nice": false, "zero": false}, "axis": null},
  "y2": {"field": "lo"}}},
{"data": {"name": "curves"},
 "mark": {"type": "line", "color": "#b0b0b0", "strokeWidth": 12, "strokeJoin": "round", "strokeCap": "round"},
 "encoding": {
  "x": {"field": "T", "type": "quantitative", "scale": {"domain": [2500, 6500], "reverse": true, "nice": false, "zero": false},
   "axis": {"orient": "top", "values": [2600,2700,2800,2900,3000,3100,3200,3300,3400,3500,3600,3700,3800,3900,4000,4100,4200,4300,4400,4500,4600,4700,4800,4900,5000,5100,5200,5300,5400,5500,5600,5700,5800,5900,6000,6100,6200,6300,6400],
    "tickSize": -23, "tickWidth": 3, "domainWidth": 3.5, "labels": false, "title": null,
    "tickDash": {"condition": {"test": "datum.value % 1000 != 0", "value": [11.5, 60]}, "value": [40, 0]}}},
  "y": {"field": "R", "type": "quantitative", "scale": {"domain": [0, 1], "nice": false, "zero": false},
   "axis": {"orient": "right", "values": [0,0.05,0.1,0.15,0.2,0.25,0.3,0.35,0.4,0.45,0.5,0.55,0.6,0.65,0.7,0.75,0.8,0.85,0.9,0.95,1],
    "tickSize": -32, "tickWidth": 3, "domainWidth": 3.5, "labels": false, "title": null,
    "tickDash": {"condition": {"test": "round(datum.value*100) % 20 != 0", "value": [16, 60]}, "value": [40, 0]}}},
  "detail": {"field": "model"}}},
{"data": {"name": "curves"},
 "mark": {"type": "line", "strokeWidth": 9, "strokeDash": [20, 19]},
 "encoding": {
  "x": {"field": "T", "type": "quantitative", "scale": {"domain": [2500, 6500], "reverse": true, "nice": false, "zero": false}, "axis": null},
  "y": {"field": "R", "type": "quantitative", "scale": {"domain": [0, 1], "nice": false, "zero": false}, "axis": null},
  "color": {"field": "model", "type": "nominal",
   "scale": {"domain": ["Padova", "Dartmouth", "BCAH", "Yonsei-Yale"], "range": ["#ff00dd", "#0000ff", "#ff0000", "#004d00"]},
   "legend": {"orient": "none", "legendX": 86, "legendY": 756, "title": null, "direction": "vertical",
    "symbolType": "circle", "symbolSize": 400, "symbolStrokeWidth": 19, "symbolDash": [1, 0], "symbolOpacity": 1,
    "labelFont": "DejaVu Sans", "labelFontSize": 64, "labelColor": "black", "labelOffset": 17, "rowPadding": -19, "labelLimit": 800}}}},
{"data": {"name": "errx"},
 "mark": {"type": "errorbar", "ticks": true, "size": 14, "thickness": 2, "color": "black"},
 "encoding": {
  "x": {"field": "lo", "type": "quantitative", "scale": {"domain": [2500, 6500], "reverse": true, "nice": false, "zero": false}, "axis": null},
  "x2": {"field": "hi"},
  "y": {"field": "R", "type": "quantitative", "scale": {"domain": [0, 1], "nice": false, "zero": false}, "axis": null}}},
{"data": {"name": "erry"},
 "mark": {"type": "errorbar", "ticks": true, "size": 14, "thickness": 2, "color": "black"},
 "encoding": {
  "x": {"field": "T", "type": "quantitative", "scale": {"domain": [2500, 6500], "reverse": true, "nice": false, "zero": false}, "axis": null},
  "y": {"field": "lo", "type": "quantitative", "scale": {"domain": [0, 1], "nice": false, "zero": false}, "axis": null},
  "y2": {"field": "hi"}}},
{"data": {"name": "stars"},
 "mark": {"type": "circle", "size": 760, "color": "black", "opacity": 1},
 "encoding": {
  "x": {"field": "T", "type": "quantitative", "scale": {"domain": [2500, 6500], "reverse": true, "nice": false, "zero": false},
   "axis": {"orient": "bottom", "values": [2600,2700,2800,2900,3000,3100,3200,3300,3400,3500,3600,3700,3800,3900,4000,4100,4200,4300,4400,4500,4600,4700,4800,4900,5000,5100,5200,5300,5400,5500,5600,5700,5800,5900,6000,6100,6200,6300,6400],
    "tickSize": -23, "tickWidth": 3, "domainWidth": 3.5,
    "tickDash": {"condition": {"test": "datum.value % 1000 != 0", "value": [11.5, 60]}, "value": [40, 0]},
    "labelExpr": "datum.value % 1000 == 0 ? format(datum.value, 'd') : ''", "labelOverlap": false,
    "labelFontSize": 65, "labelPadding": 75, "title": null}},
  "y": {"field": "R", "type": "quantitative", "scale": {"domain": [0, 1], "nice": false, "zero": false},
   "axis": {"orient": "left", "values": [0,0.05,0.1,0.15,0.2,0.25,0.3,0.35,0.4,0.45,0.5,0.55,0.6,0.65,0.7,0.75,0.8,0.85,0.9,0.95,1],
    "tickSize": -32, "tickWidth": 3, "domainWidth": 3.5,
    "tickDash": {"condition": {"test": "round(datum.value*100) % 20 != 0", "value": [16, 60]}, "value": [40, 0]},
    "labelExpr": "round(datum.value*100) % 20 == 0 ? format(datum.value, '.1f') : ''", "labelOverlap": false, "labelFlush": true,
    "labelFontSize": 65, "labelPadding": 56,
    "title": "Radius (R☉)", "titleFontSize": 66, "titlePadding": 44}}}},
{"data": {"values": [{}]},
 "mark": {"type": "rule", "strokeWidth": 9, "color": "black"},
 "encoding": {
  "x": {"datum": 3447, "type": "quantitative", "axis": null}, "x2": {"datum": 3666},
  "y": {"datum": 0.751, "type": "quantitative", "axis": null}, "y2": {"datum": 0.654}}},
{"data": {"values": [{}]},
 "mark": {"type": "point", "shape": "M0,-1L1,1L-1,1Z", "size": 2809, "angle": 219.5, "filled": true, "color": "black", "opacity": 1},
 "encoding": {
  "x": {"datum": 3666, "type": "quantitative", "axis": null},
  "y": {"datum": 0.654, "type": "quantitative", "axis": null}}},
{"data": {"values": [{}]},
 "mark": {"type": "text", "text": "Models", "font": "Liberation Serif", "fontWeight": "bold", "fontSize": 140, "color": "#c03cf0", "align": "left", "baseline": "alphabetic"},
 "encoding": {
  "x": {"datum": 6248, "type": "quantitative", "axis": null},
  "y": {"datum": 0.437, "type": "quantitative", "axis": null}}},
{"data": {"values": [{}]},
 "mark": {"type": "text", "text": "Data", "font": "Liberation Serif", "fontWeight": "bold", "fontSize": 139, "color": "black", "align": "left", "baseline": "alphabetic"},
 "encoding": {
  "x": {"datum": 3444, "type": "quantitative", "axis": null},
  "y": {"datum": 0.797, "type": "quantitative", "axis": null}}},
{"data": {"values": [{}]},
 "mark": {"type": "text", "text": "T", "font": "DejaVu Sans", "fontSize": 62, "color": "black", "align": "left", "baseline": "alphabetic"},
 "encoding": {
  "x": {"datum": 4791, "type": "quantitative", "axis": null},
  "y": {"datum": -0.151, "type": "quantitative", "axis": null}}},
{"data": {"values": [{}]},
 "mark": {"type": "text", "text": "EFF", "font": "DejaVu Sans", "fontSize": 38, "color": "black", "align": "left", "baseline": "alphabetic"},
 "encoding": {
  "x": {"datum": 4693, "type": "quantitative", "axis": null},
  "y": {"datum": -0.166, "type": "quantitative", "axis": null}}},
{"data": {"values": [{}]},
 "mark": {"type": "text", "text": "(K)", "font": "DejaVu Sans", "fontSize": 62, "color": "black", "align": "left", "baseline": "alphabetic"},
 "encoding": {
  "x": {"datum": 4458, "type": "quantitative", "axis": null},
  "y": {"datum": -0.151, "type": "quantitative", "axis": null}}}
],
"resolve": {"axis": {"x": "independent", "y": "independent"}}
}
